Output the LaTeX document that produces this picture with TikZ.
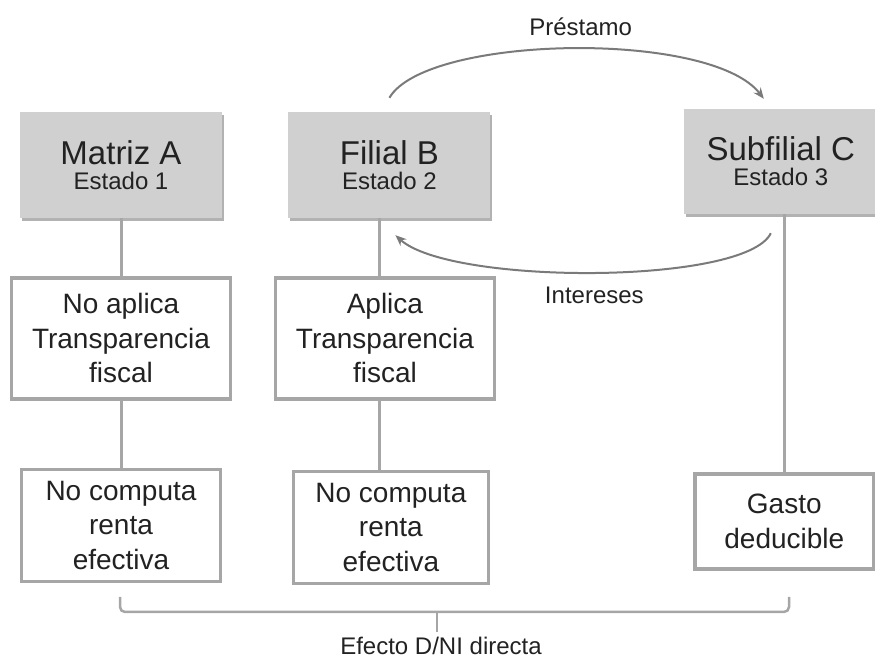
\documentclass[tikz,border=0pt]{standalone}
\usepackage{fontspec}
\setmainfont{Liberation Sans}
\usetikzlibrary{positioning,arrows.meta,shadows,calc}
\definecolor{boxgray}{HTML}{D0D0D0}
\definecolor{linegray}{HTML}{A6A6A6}
\definecolor{arrowgray}{HTML}{7A7A7A}
\definecolor{inkgray}{HTML}{222222}
\newcommand{\ent}[2]{{\fontsize{33}{36}\selectfont #1}\\#2}

\begin{document}
\begin{tikzpicture}[
  x=1pt, y=1pt,
  font=\fontsize{28}{34.5}\selectfont,
  text=inkgray,
  entity/.style={fill=boxgray, inner sep=0pt, align=center,
    minimum width=202pt, minimum height=106pt,
    font=\fontsize{24}{25}\selectfont,
    drop shadow={shadow xshift=2pt, shadow yshift=-3.5pt,
      fill=black!60, opacity=0.5}},
  effect/.style={draw=linegray, line width=3.5pt, fill=white,
    inner sep=0pt, align=center},
  tall/.style={effect, minimum width=219pt, minimum height=121pt},
  short/.style={effect, minimum width=197pt, minimum height=112pt},
  link/.style={draw=linegray, line width=3pt},
  flow/.style={-{Stealth[length=11pt, width=9pt]}, line width=2pt,
    draw=arrowgray},
  lbl/.style={font=\fontsize{24}{26}\selectfont, inner sep=0pt},
  brace/.style={draw=linegray, line width=2.5pt, rounded corners=5pt},
]
\useasboundingbox (0,0) rectangle (875,660);

% ---- top row: the three companies ---------------------------------------
\node[entity] (mat) at (121,495) {\ent{Matriz A}{Estado 1}};
\node[entity, right=66pt of mat] (fil) {\ent{Filial B}{Estado 2}};
\node[entity, right=193pt of fil, yshift=3.5pt, minimum width=194pt,
  minimum height=105pt] (sub) {\ent{Subfilial C}{Estado 3}};

% ---- columns below each company ------------------------------------------
\node[tall, below=58pt of mat] (mat1) {No aplica\\ Transparencia\\ fiscal};
\node[short, below=67pt of mat1, minimum width=199pt] (mat2)
  {No computa\\ renta\\ efectiva};
\node[tall, below=58pt of fil, xshift=-4.5pt] (fil1)
  {Aplica\\ Transparencia\\ fiscal};
\node[short, below=69pt of fil1, xshift=6pt, minimum width=195pt] (fil2)
  {No computa\\ renta\\ efectiva};
\node[effect, below=258pt of sub, xshift=3.5pt, minimum width=179pt,
  minimum height=95pt] (sub1) {Gasto\\ deducible};

\draw[link] (mat1.north) -- (mat1.north |- mat.south);
\draw[link] (mat1) -- (mat1.south |- mat2.north);
\draw[link] ([xshift=-5.5pt]fil1.north) -- ([xshift=-5.5pt]fil1.north |- fil.south);
\draw[link] ([xshift=-5.5pt]fil1.south) -- ([xshift=-5.5pt]fil1.south |- fil2.north);
\draw[link] (sub1.north) -- (sub1.north |- sub.south);

% ---- loan and interest between B and C -----------------------------------
\draw[flow] ([yshift=14pt]fil.north) .. controls +(37,63) and +(-53,69)
  .. ([xshift=-17pt, yshift=10pt]sub.north)
  node[lbl, pos=0.5, above=12pt, xshift=10pt] (loan) {Préstamo};
\draw[flow] ([xshift=-10pt, yshift=-19pt]sub.south) .. controls +(-25,-52)
  and +(55,-50) .. ([xshift=6pt, yshift=-17pt]fil.south)
  node[lbl, pos=0.5, below=14pt] (int) {Intereses};

% ---- common effect ---------------------------------------------------------
\coordinate (bl) at (120,63);
\coordinate (br) at (789,63);
\node[lbl, anchor=base] (eff) at (441,5) {Efecto D/NI directa};
\draw[brace] (bl) -- ++(0,-15) -| (br);
\draw[link, line width=2.5pt] (437,48) -- (437,28);

\end{tikzpicture}
\end{document}
